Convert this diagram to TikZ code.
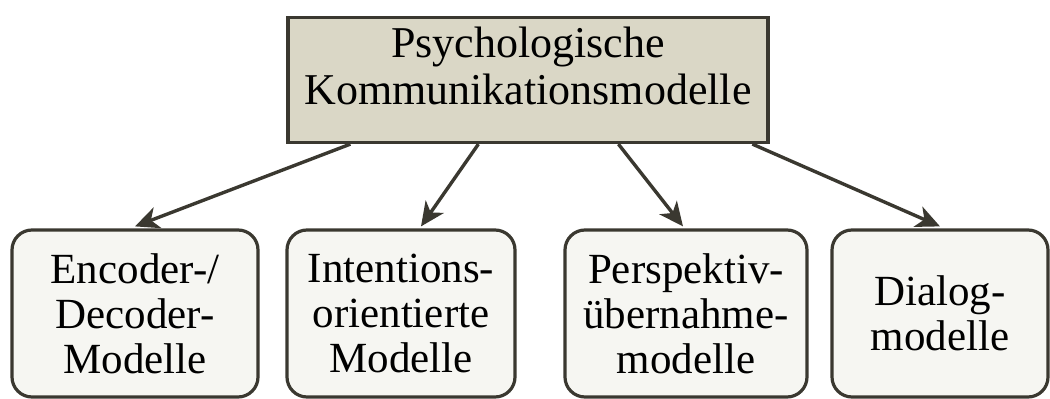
\documentclass[tikz,border=0pt]{standalone}
\usepackage{fontspec}
\setmainfont{Liberation Serif}
\usetikzlibrary{arrows.meta,calc}
\definecolor{lineC}{HTML}{3A3830}
\definecolor{topFill}{HTML}{DAD7C6}
\definecolor{boxFill}{HTML}{F6F6F2}
\tikzset{
  topbox/.style={draw=lineC, line width=3.2pt, fill=topFill, minimum width=480pt, minimum height=125pt, align=center, inner sep=0pt, text depth=28pt, font=\fontsize{44}{47}\selectfont},
  subbox/.style={draw=lineC, line width=3.2pt, fill=boxFill, rounded corners=20pt, minimum height=167pt, align=center, inner sep=0pt, font=\fontsize{43}{45}\selectfont},
  arr/.style={draw=lineC, line width=3.4pt, -{Stealth[length=24pt,width=22pt,inset=7pt]}}
}
\begin{document}
\begin{tikzpicture}[x=1pt,y=1pt]
\useasboundingbox (0,0) rectangle (1050,399);
\node[topbox] (top) at (528,319) {Psychologische\\Kommunikationsmodelle};
\node[subbox, minimum width=246pt] (b1) at (135,85.5) {Encoder-/\\Decoder-\\Modelle};
\node[subbox, minimum width=228pt] (b2) at (401,85.5) {Intentions-\\orientierte\\Modelle};
\node[subbox, minimum width=242pt] (b3) at (686,85.5) {Perspektiv-\\übernahme-\\modelle};
\node[subbox, minimum width=216pt] (b4) at (940,85.5) {Dialog-\\modelle};
\draw[arr] ($(top.south west)+(64,0)$) -- ($(b1.north)+(0,2)$);
\draw[arr] ($(top.south west)+(192,0)$) -- ($(b2.north)+(20,2)$);
\draw[arr] ($(top.south west)+(332,0)$) -- ($(b3.north)+(-3,2)$);
\draw[arr] ($(top.south west)+(466,0)$) -- ($(b4.north)+(0,2)$);
\end{tikzpicture}
\end{document}
